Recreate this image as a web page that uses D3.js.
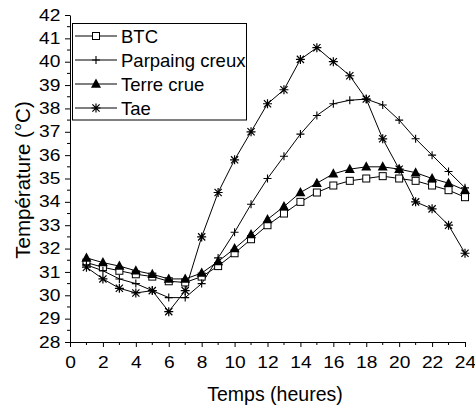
<!DOCTYPE html>
<html>
<head>
<meta charset="utf-8">
<script src="https://cdn.jsdelivr.net/npm/d3@7"></script>
<style>
  html, body { margin: 0; padding: 0; background: #fff; }
  svg { display: block; font-family: "Liberation Sans", Arial, sans-serif; }
</style>
</head>
<body>
<svg id="chart" width="475" height="409"></svg>
<script>
// Hourly temperatures (°C) for four wall materials
const hours = d3.range(1, 25);
const btc      = [31.4, 31.2, 31.05, 30.9, 30.8, 30.6, 30.55, 30.8, 31.25, 31.8, 32.4, 33.0, 33.5, 34.0, 34.4, 34.7, 34.9, 35.0, 35.1, 35.0, 34.9, 34.7, 34.5, 34.2];
const parpaing = [31.3, 31.05, 30.7, 30.5, 30.2, 29.9, 29.9, 30.5, 31.6, 32.7, 33.9, 35.0, 35.95, 36.9, 37.7, 38.2, 38.35, 38.4, 38.15, 37.5, 36.7, 36.0, 35.3, 34.6];
const terre    = [31.6, 31.4, 31.25, 31.05, 30.9, 30.7, 30.7, 30.95, 31.45, 32.0, 32.6, 33.25, 33.8, 34.4, 34.8, 35.2, 35.4, 35.5, 35.5, 35.4, 35.25, 35.0, 34.8, 34.5];
const tae      = [31.2, 30.7, 30.3, 30.1, 30.2, 29.3, 30.2, 32.5, 34.4, 35.8, 37.0, 38.2, 38.8, 40.1, 40.6, 40.0, 39.4, 38.4, 36.7, 35.4, 34.0, 33.7, 33.0, 31.8];
const seriesNames = ["BTC", "Parpaing creux", "Terre crue", "Tae"];
const seriesMarkers = ["square", "plus", "triangle", "asterisk"];
const xTicks = d3.range(0, 25, 2);
const yTicks = d3.range(28, 43, 1);

const series = [btc, parpaing, terre, tae].map((vals, i) => ({
  name: seriesNames[i], marker: seriesMarkers[i], values: vals
}));

const svg = d3.select("#chart");
const x = d3.scaleLinear().domain([0, 24]).range([70, 465]);
const y = d3.scaleLinear().domain([28, 42]).range([342, 15]);

// Marker drawing
function drawMarker(g, type, cx, cy) {
  if (type === "square") {
    g.append("rect").attr("x", cx - 3.5).attr("y", cy - 3.5)
      .attr("width", 7).attr("height", 7)
      .attr("fill", "#fff").attr("stroke", "#000").attr("stroke-width", 1);
  } else if (type === "triangle") {
    const s = 5;
    g.append("path")
      .attr("d", `M${cx},${cy - s * 1.1}L${cx + s},${cy + s * 0.75}L${cx - s},${cy + s * 0.75}Z`)
      .attr("fill", "#000");
  } else if (type === "plus") {
    const s = 4;
    g.append("path")
      .attr("d", `M${cx - s},${cy}H${cx + s}M${cx},${cy - s}V${cy + s}`)
      .attr("stroke", "#000").attr("stroke-width", 1.1).attr("fill", "none");
  } else if (type === "asterisk") {
    const s = 4.5;
    const d = s * 0.8;
    g.append("path")
      .attr("d", `M${cx - d},${cy - d}L${cx + d},${cy + d}M${cx - d},${cy + d}L${cx + d},${cy - d}M${cx},${cy - s}V${cy + s}M${cx - s},${cy}H${cx + s}`)
      .attr("stroke", "#000").attr("stroke-width", 1.2).attr("fill", "none");
  }
}

// Axes
const xAxis = d3.axisBottom(x).tickValues(xTicks).tickSize(5).tickSizeOuter(0).tickPadding(10);
const yAxis = d3.axisLeft(y).tickValues(yTicks).tickSize(5).tickSizeOuter(0).tickPadding(3);

const gx = svg.append("g").attr("transform", "translate(0,342)").call(xAxis);
const gy = svg.append("g").attr("transform", "translate(70,0)").call(yAxis);
[gx, gy].forEach(g => {
  g.selectAll("path, line").attr("stroke", "#000").attr("stroke-width", 1);
  g.selectAll("text").attr("fill", "#000").attr("font-size", 16)
    .attr("font-family", "Liberation Sans, Arial, sans-serif")
    .attr("transform", "scale(1.2,1)");
});

// Minor ticks
svg.append("g").selectAll("line")
  .data(d3.range(1, 24, 2)).join("line")
  .attr("x1", d => x(d)).attr("x2", d => x(d))
  .attr("y1", 342).attr("y2", 345).attr("stroke", "#000");
svg.append("g").selectAll("line")
  .data(d3.range(28.5, 42, 1)).join("line")
  .attr("x1", 67).attr("x2", 70)
  .attr("y1", d => y(d)).attr("y2", d => y(d)).attr("stroke", "#000");

// Axis titles
svg.append("text").attr("x", 275).attr("y", 401).attr("text-anchor", "middle")
  .attr("font-size", 19.5).text("Temps (heures)");
svg.append("text").attr("transform", "translate(30,180) rotate(-90)")
  .attr("text-anchor", "middle").attr("font-size", 20.5).text("Température (°C)");

// Lines and markers
const line = d3.line().x((d, i) => x(hours[i])).y(d => y(d));
series.forEach(s => {
  svg.append("path").datum(s.values).attr("d", line)
    .attr("fill", "none").attr("stroke", "#000").attr("stroke-width", 1);
});
series.forEach(s => {
  const g = svg.append("g");
  s.values.forEach((v, i) => drawMarker(g, s.marker, x(hours[i]), y(v)));
});

// Legend
const lg = svg.append("g");
lg.append("rect").attr("x", 72.5).attr("y", 23.5).attr("width", 174).attr("height", 96.5)
  .attr("fill", "#fff").attr("stroke", "#000").attr("stroke-width", 1);
series.forEach((s, i) => {
  const cy = 36 + i * 24;
  lg.append("line").attr("x1", 75).attr("x2", 117).attr("y1", cy).attr("y2", cy)
    .attr("stroke", "#000").attr("stroke-width", 1);
  drawMarker(lg, s.marker, 96, cy);
  lg.append("text").attr("x", 121).attr("y", cy + 7).attr("font-size", 18.5).text(s.name);
});
</script>
</body>
</html>
